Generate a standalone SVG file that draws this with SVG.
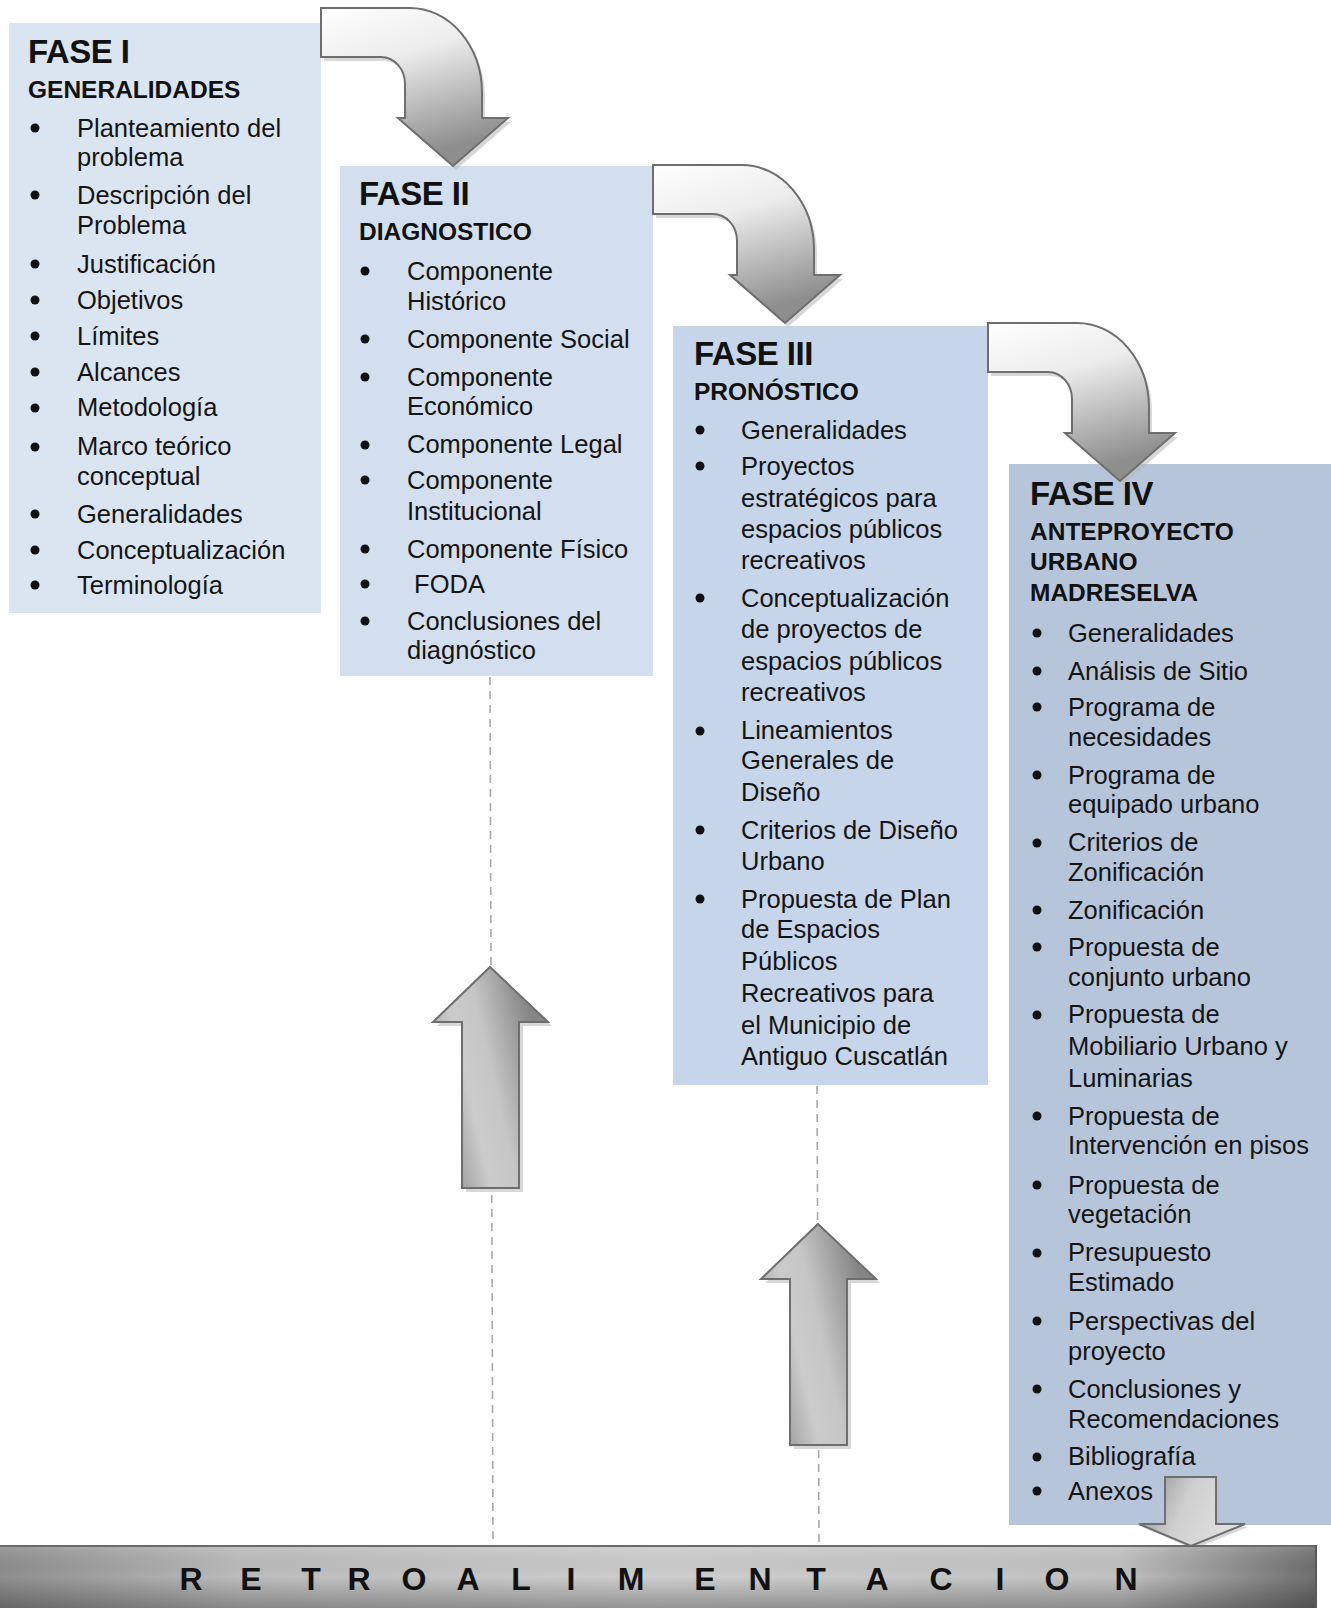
<svg xmlns="http://www.w3.org/2000/svg" xmlns:xlink="http://www.w3.org/1999/xlink" width="1331" height="1608" viewBox="0 0 1331 1608">
<style>
.t{font-family:"Liberation Sans",Arial,sans-serif;font-size:25.5px;fill:#141414}
.h1{font-family:"Liberation Sans",Arial,sans-serif;font-size:33px;font-weight:bold;fill:#111;letter-spacing:-0.5px}
.h2{font-family:"Liberation Sans",Arial,sans-serif;font-size:24.5px;font-weight:bold;fill:#111}
.b{fill:#111}
.bar{font-family:"Liberation Sans",Arial,sans-serif;font-size:32px;font-weight:bold;fill:#111;text-anchor:middle}
.dash{stroke:#a8a8a8;stroke-width:1.6;stroke-dasharray:8 6;fill:none}
.arr{stroke:#6e6e6e;stroke-width:2;stroke-linejoin:miter}
.shadow{fill:#b8b8b8;opacity:0.55}
</style>
<defs>
<linearGradient id="gCurve" x1="0" y1="0" x2="0.35" y2="1">
<stop offset="0" stop-color="#ffffff"/>
<stop offset="0.4" stop-color="#ececec"/>
<stop offset="1" stop-color="#8e8e8e"/>
</linearGradient>
<linearGradient id="gUp" x1="0" y1="1" x2="1" y2="0.55">
<stop offset="0" stop-color="#7c7c7c"/>
<stop offset="0.42" stop-color="#cbcbcb"/>
<stop offset="0.62" stop-color="#c6c6c6"/>
<stop offset="1" stop-color="#858585"/>
</linearGradient>
<linearGradient id="gDown" x1="0" y1="0" x2="1" y2="0.3">
<stop offset="0" stop-color="#8a8a8a"/>
<stop offset="0.5" stop-color="#cfcfcf"/>
<stop offset="1" stop-color="#e0e0e0"/>
</linearGradient>
<linearGradient id="gBar" x1="0" y1="0" x2="1" y2="0">
<stop offset="0" stop-color="#8e8e8e"/>
<stop offset="0.18" stop-color="#bcbcbc"/>
<stop offset="0.5" stop-color="#cecece"/>
<stop offset="0.85" stop-color="#c2c2c2"/>
<stop offset="1" stop-color="#6e6e6e"/>
</linearGradient>
<linearGradient id="gBarV" x1="0" y1="0" x2="0" y2="1">
<stop offset="0" stop-color="#ffffff" stop-opacity="0.15"/>
<stop offset="0.5" stop-color="#000000" stop-opacity="0"/>
<stop offset="1" stop-color="#000000" stop-opacity="0.28"/>
</linearGradient>
<path id="curve" d="M0,0 H89 A72,85 0 0 1 161,85 V110 H187 L132,158 L77,110 H84 V76 A24,27 0 0 0 60,49 H0 Z"/>
<path id="up" d="M0,0 L58,55 H29 V221 H-28 V55 H-57 Z"/>
</defs>

<rect width="1331" height="1608" fill="#ffffff"/>

<g id="fase1">
<rect x="9" y="23" width="312" height="590" fill="#dbe5f1"/>
<text class="h1" x="28" y="63">FASE I</text>
<text class="h2" x="28" y="98">GENERALIDADES</text>
<g class="b"><circle cx="35" cy="128" r="4.5"/><circle cx="35" cy="195" r="4.5"/><circle cx="35" cy="264" r="4.5"/><circle cx="35" cy="300" r="4.5"/><circle cx="35" cy="336" r="4.5"/><circle cx="35" cy="372" r="4.5"/><circle cx="35" cy="408" r="4.5"/><circle cx="35" cy="447" r="4.5"/><circle cx="35" cy="514" r="4.5"/><circle cx="35" cy="550" r="4.5"/><circle cx="35" cy="585" r="4.5"/></g>
<text class="t" x="77" y="137">Planteamiento del</text>
<text class="t" x="77" y="166">problema</text>
<text class="t" x="77" y="204">Descripción del</text>
<text class="t" x="77" y="234">Problema</text>
<text class="t" x="77" y="273">Justificación</text>
<text class="t" x="77" y="309">Objetivos</text>
<text class="t" x="77" y="345">Límites</text>
<text class="t" x="77" y="381">Alcances</text>
<text class="t" x="77" y="416">Metodología</text>
<text class="t" x="77" y="455">Marco teórico</text>
<text class="t" x="77" y="485">conceptual</text>
<text class="t" x="77" y="523">Generalidades</text>
<text class="t" x="77" y="559">Conceptualización</text>
<text class="t" x="77" y="594">Terminología</text>
</g>

<g id="fase2">
<rect x="340" y="166" width="313" height="510" fill="#d3dfee"/>
<text class="h1" x="359" y="205">FASE II</text>
<text class="h2" x="359" y="240">DIAGNOSTICO</text>
<g class="b"><circle cx="365" cy="271" r="4.5"/><circle cx="365" cy="339" r="4.5"/><circle cx="365" cy="377" r="4.5"/><circle cx="365" cy="445" r="4.5"/><circle cx="365" cy="480" r="4.5"/><circle cx="365" cy="549" r="4.5"/><circle cx="365" cy="584" r="4.5"/><circle cx="365" cy="621" r="4.5"/></g>
<text class="t" x="407" y="280">Componente</text>
<text class="t" x="407" y="310">Histórico</text>
<text class="t" x="407" y="348">Componente Social</text>
<text class="t" x="407" y="386">Componente</text>
<text class="t" x="407" y="415">Económico</text>
<text class="t" x="407" y="453">Componente Legal</text>
<text class="t" x="407" y="489">Componente</text>
<text class="t" x="407" y="520">Institucional</text>
<text class="t" x="407" y="558">Componente Físico</text>
<text class="t" x="407" y="593" xml:space="preserve"> FODA</text>
<text class="t" x="407" y="630">Conclusiones del</text>
<text class="t" x="407" y="659">diagnóstico</text>
</g>

<g id="fase3">
<rect x="673" y="326" width="315" height="759" fill="#c6d5e9"/>
<text class="h1" x="694" y="365">FASE III</text>
<text class="h2" x="694" y="400">PRONÓSTICO</text>
<g class="b"><circle cx="700" cy="430" r="4.5"/><circle cx="700" cy="466" r="4.5"/><circle cx="700" cy="598" r="4.5"/><circle cx="700" cy="731" r="4.5"/><circle cx="700" cy="830" r="4.5"/><circle cx="700" cy="899" r="4.5"/></g>
<text class="t" x="741" y="439">Generalidades</text>
<text class="t" x="741" y="475">Proyectos</text>
<text class="t" x="741" y="507">estratégicos para</text>
<text class="t" x="741" y="538">espacios públicos</text>
<text class="t" x="741" y="569">recreativos</text>
<text class="t" x="741" y="607">Conceptualización</text>
<text class="t" x="741" y="638">de proyectos de</text>
<text class="t" x="741" y="670">espacios públicos</text>
<text class="t" x="741" y="701">recreativos</text>
<text class="t" x="741" y="739">Lineamientos</text>
<text class="t" x="741" y="769">Generales de</text>
<text class="t" x="741" y="801">Diseño</text>
<text class="t" x="741" y="839">Criterios de Diseño</text>
<text class="t" x="741" y="870">Urbano</text>
<text class="t" x="741" y="908">Propuesta de Plan</text>
<text class="t" x="741" y="938">de Espacios</text>
<text class="t" x="741" y="970">Públicos</text>
<text class="t" x="741" y="1002">Recreativos para</text>
<text class="t" x="741" y="1034">el Municipio de</text>
<text class="t" x="741" y="1065">Antiguo Cuscatlán</text>
</g>

<g id="fase4">
<rect x="1009" y="464" width="322" height="1061" fill="#b6c5da"/>
<text class="h1" x="1030" y="505">FASE IV</text>
<text class="h2" x="1030" y="540">ANTEPROYECTO</text>
<text class="h2" x="1030" y="570">URBANO</text>
<text class="h2" x="1030" y="601">MADRESELVA</text>
<g class="b"><circle cx="1037" cy="633" r="4.5"/><circle cx="1037" cy="671" r="4.5"/><circle cx="1037" cy="707" r="4.5"/><circle cx="1037" cy="775" r="4.5"/><circle cx="1037" cy="843" r="4.5"/><circle cx="1037" cy="910" r="4.5"/><circle cx="1037" cy="947" r="4.5"/><circle cx="1037" cy="1015" r="4.5"/><circle cx="1037" cy="1116" r="4.5"/><circle cx="1037" cy="1185" r="4.5"/><circle cx="1037" cy="1253" r="4.5"/><circle cx="1037" cy="1321" r="4.5"/><circle cx="1037" cy="1389" r="4.5"/><circle cx="1037" cy="1457" r="4.5"/><circle cx="1037" cy="1491" r="4.5"/></g>
<text class="t" x="1068" y="642">Generalidades</text>
<text class="t" x="1068" y="680">Análisis de Sitio</text>
<text class="t" x="1068" y="716">Programa de</text>
<text class="t" x="1068" y="746">necesidades</text>
<text class="t" x="1068" y="784">Programa de</text>
<text class="t" x="1068" y="813">equipado urbano</text>
<text class="t" x="1068" y="851">Criterios de</text>
<text class="t" x="1068" y="881">Zonificación</text>
<text class="t" x="1068" y="919">Zonificación</text>
<text class="t" x="1068" y="956">Propuesta de</text>
<text class="t" x="1068" y="986">conjunto urbano</text>
<text class="t" x="1068" y="1023">Propuesta de</text>
<text class="t" x="1068" y="1055">Mobiliario Urbano y</text>
<text class="t" x="1068" y="1087">Luminarias</text>
<text class="t" x="1068" y="1125">Propuesta de</text>
<text class="t" x="1068" y="1154">Intervención en pisos</text>
<text class="t" x="1068" y="1194">Propuesta de</text>
<text class="t" x="1068" y="1223">vegetación</text>
<text class="t" x="1068" y="1261">Presupuesto</text>
<text class="t" x="1068" y="1291">Estimado</text>
<text class="t" x="1068" y="1330">Perspectivas del</text>
<text class="t" x="1068" y="1360">proyecto</text>
<text class="t" x="1068" y="1398">Conclusiones y</text>
<text class="t" x="1068" y="1428">Recomendaciones</text>
<text class="t" x="1068" y="1465">Bibliografía</text>
<text class="t" x="1068" y="1500">Anexos</text>
</g>

<g id="connectors">
<line class="dash" x1="490" y1="677" x2="493" y2="1545"/>
<line class="dash" x1="817" y1="1086" x2="819" y2="1545"/>
<use xlink:href="#curve" class="shadow" transform="translate(324,12)"/>
<use xlink:href="#curve" fill="url(#gCurve)" class="arr" transform="translate(321,8)"/>
<use xlink:href="#curve" class="shadow" transform="translate(656,169)"/>
<use xlink:href="#curve" fill="url(#gCurve)" class="arr" transform="translate(653,165)"/>
<use xlink:href="#curve" class="shadow" transform="translate(991,327)"/>
<use xlink:href="#curve" fill="url(#gCurve)" class="arr" transform="translate(988,323)"/>
<use xlink:href="#up" class="shadow" transform="translate(494,971)"/>
<use xlink:href="#up" fill="url(#gUp)" class="arr" transform="translate(490,967)"/>
<use xlink:href="#up" class="shadow" transform="translate(822,1228)"/>
<use xlink:href="#up" fill="url(#gUp)" class="arr" transform="translate(818,1224)"/>
<path class="shadow" d="M1168,1480 H1219 V1527 H1248 L1194,1549 L1142,1527 H1168 Z"/>
<path fill="url(#gDown)" class="arr" d="M1165,1477 H1216 V1524 H1245 L1191,1546 L1139,1524 H1165 Z"/>
</g>

<g id="retroalimentacion">
<rect x="0" y="1545" width="1317" height="63" fill="url(#gBar)"/>
<rect x="0" y="1545" width="1317" height="63" fill="url(#gBarV)"/>
<line x1="0" y1="1546" x2="1317" y2="1546" stroke="#6a6a6a" stroke-width="2"/>
<line x1="1316" y1="1545" x2="1316" y2="1608" stroke="#5a5a5a" stroke-width="2"/>
<text class="bar" y="1590"><tspan x="191">R</tspan><tspan x="251">E</tspan><tspan x="311">T</tspan><tspan x="359">R</tspan><tspan x="414">O</tspan><tspan x="468">A</tspan><tspan x="521">L</tspan><tspan x="571">I</tspan><tspan x="631">M</tspan><tspan x="705">E</tspan><tspan x="760">N</tspan><tspan x="816">T</tspan><tspan x="877">A</tspan><tspan x="941">C</tspan><tspan x="1000">I</tspan><tspan x="1057">O</tspan><tspan x="1126">N</tspan></text>
</g>
</svg>
